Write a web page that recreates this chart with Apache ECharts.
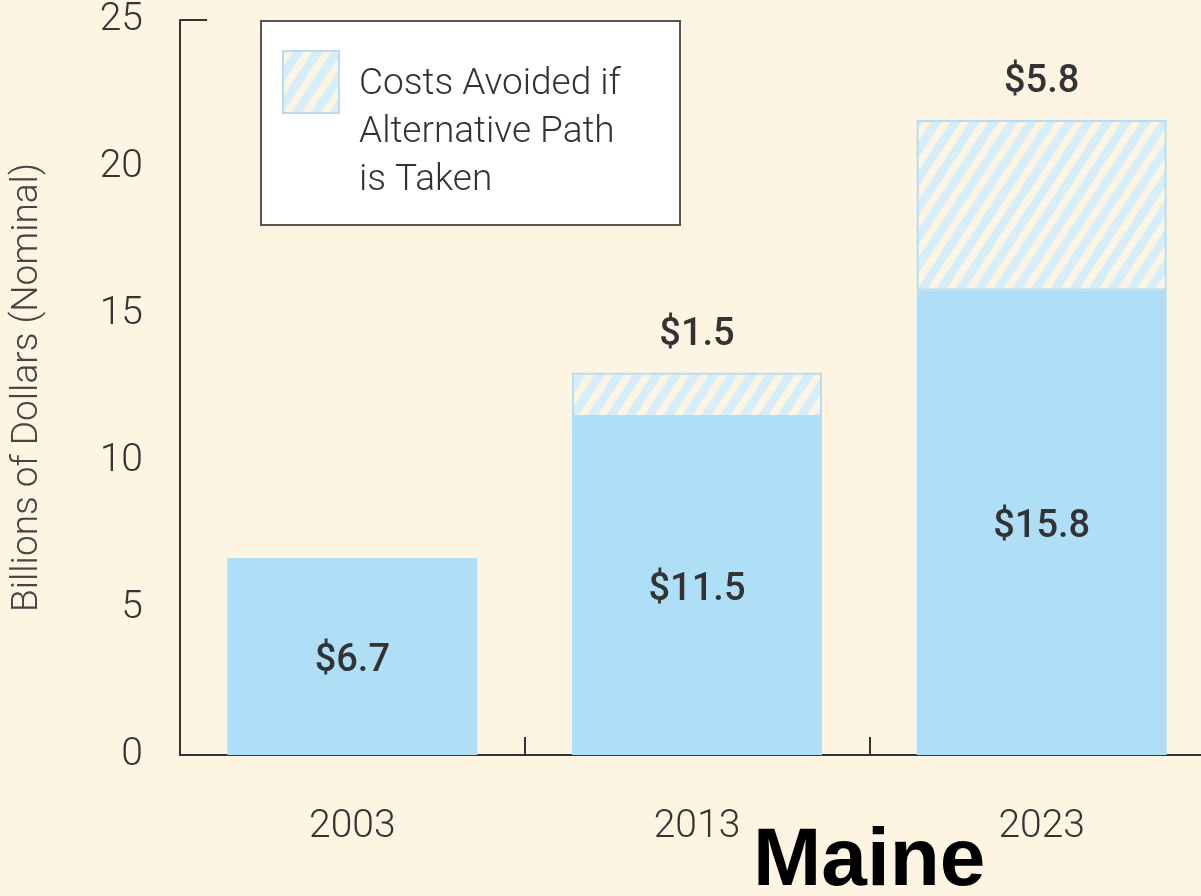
<!DOCTYPE html>
<html>
<head>
<meta charset="utf-8">
<script src="https://cdn.jsdelivr.net/npm/echarts@6/dist/echarts.min.js"></script>
<style>
  html, body { margin: 0; padding: 0; background: #fdf5e2; }
  #main { width: 1201px; height: 896px; }
</style>
</head>
<body>
<div id="main"></div>
<script>
// data
const years = ['2003', '2013', '2023'];
const baseCosts = [6.7, 11.5, 15.8];
const avoidedCosts = ['-', 1.5, 5.8];
const yTicks = [0, 5, 10, 15, 20, 25];

const bg = '#fdf5e2';
const solidBlue = '#afdef7';
const hatchBlue = '#d6edfa';
const edgeBlue = '#b6ddf4';
const textFont = "Roboto, 'Liberation Sans', Arial, sans-serif";

// diagonal stripe tile for the "avoided" part
const makeHatch = () => {
    let w = 19, h = 29;
    let c = document.createElement('canvas');
    c.width = w;
    c.height = h;
    let ctx = c.getContext('2d');
    ctx.fillStyle = hatchBlue;
    ctx.fillRect(0, 0, w, h);
    ctx.strokeStyle = bg;
    ctx.lineWidth = 7;
    // lines run past the tile so the corners join up when repeated
    for (let k = -2; k <= 2; k++) {
        ctx.beginPath();
        ctx.moveTo(k * w - w, 2 * h);
        ctx.lineTo(k * w + 2 * w, -h);
        ctx.stroke();
    }
    return c;
};
const hatch = makeHatch();

let myChart = echarts.init(document.getElementById('main'));
let option = {
    backgroundColor: bg,
    animation: false,
    title: {
        text: 'Maine',
        left: 748,
        top: 816,
        textStyle: {
            fontFamily: "'Liberation Sans', Arial, sans-serif",
            fontSize: 82,
            fontWeight: 'bold',
            color: '#000'
        }
    },
    grid: {
        left: 180,
        top: 20,
        width: 1034,
        height: 735,
        outerBoundsMode: 'none',
        containLabel: false
    },
    xAxis: {
        type: 'category',
        data: years,
        axisLine: {lineStyle: {color: '#333', width: 2}},
        axisTick: {show: true, inside: true, length: 18, lineStyle: {color: '#333', width: 2}},
        axisLabel: {
            margin: 53,
            fontFamily: textFont,
            fontWeight: 300,
            fontSize: 39,
            color: '#333'
        }
    },
    yAxis: {
        type: 'value',
        min: yTicks[0],
        max: yTicks[yTicks.length - 1],
        interval: 5,
        name: 'Billions of Dollars (Nominal)',
        nameLocation: 'middle',
        nameGap: 134,
        nameTextStyle: {
            fontFamily: textFont,
            fontWeight: 300,
            fontSize: 37,
            color: '#444'
        },
        axisLine: {show: true, lineStyle: {color: '#333', width: 2}},
        axisTick: {show: false},
        splitLine: {show: false},
        axisLabel: {
            margin: 37,
            padding: [10, 0, 0, 0],
            fontFamily: textFont,
            fontWeight: 300,
            fontSize: 39,
            color: '#333'
        }
    },
    graphic: [
        // short cap at the top of the y axis
        {
            type: 'line',
            shape: {x1: 180, y1: 20, x2: 207, y2: 20},
            style: {stroke: '#333', lineWidth: 2}
        },
        // legend box
        {
            type: 'rect',
            shape: {x: 261, y: 21, width: 419, height: 204},
            style: {fill: '#fff', stroke: '#555', lineWidth: 2}
        },
        {
            type: 'rect',
            shape: {x: 283, y: 51, width: 56, height: 62},
            style: {fill: {image: hatch, repeat: 'repeat'}, stroke: edgeBlue, lineWidth: 2}
        },
        {
            type: 'text',
            x: 359,
            y: 61,
            style: {
                text: 'Costs Avoided if\nAlternative Path\nis Taken',
                font: '300 37px ' + textFont,
                lineHeight: 48,
                fill: '#333'
            }
        }
    ],
    series: [
        {
            name: 'Costs',
            type: 'bar',
            stack: 'total',
            barWidth: 250,
            data: baseCosts,
            itemStyle: {color: solidBlue},
            label: {
                show: true,
                position: 'inside',
                offset: [0, 5],
                formatter: p => '$' + p.value,
                fontFamily: textFont,
                fontSize: 38,
                fontWeight: 500,
                color: '#333'
            }
        },
        {
            name: 'Costs Avoided if Alternative Path is Taken',
            type: 'bar',
            stack: 'total',
            barWidth: 250,
            data: avoidedCosts,
            itemStyle: {
                color: {image: hatch, repeat: 'repeat'},
                borderColor: edgeBlue,
                borderWidth: 2
            },
            label: {
                show: true,
                position: 'top',
                distance: 18,
                formatter: p => '$' + p.value,
                fontFamily: textFont,
                fontSize: 38,
                fontWeight: 500,
                color: '#333'
            }
        }
    ]
};
option && myChart.setOption(option);
</script>
</body>
</html>
